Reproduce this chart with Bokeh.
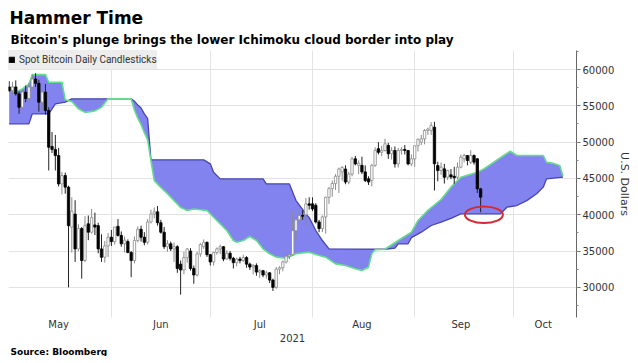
import numpy as np
import pandas as pd
from bokeh.plotting import figure
from bokeh.models import (Range1d, ColumnDataSource, FixedTicker, SingleIntervalTicker,
                          BasicTickFormatter, DatetimeTickFormatter, Legend, LegendItem, Title)
from bokeh.embed import file_html
from bokeh.resources import INLINE

# ---------------- data ----------------
first_day = "2021-05-01"   # first daily candle; one candle per day through 2021-09-21

open_px = [
    57600, 57100, 57600, 56650, 54800, 56900, 56000, 57600, 58700, 58100, 55500, 56900, 54350, 49400, 49000, 48150,
    44250, 45400, 43800, 38300, 40100, 35300, 38100, 33700, 38750, 37600, 38600, 38500, 35300, 34150, 35700,
    36900, 36300, 38400, 37150, 36000, 36300, 34800, 33700, 36450, 38000, 36900, 36200, 39000, 40100, 40400,
    38900, 37600, 35600, 36000, 35300, 35600, 33200, 32400, 34100, 35000, 32600, 31700, 34600, 35600, 36200,
    34500, 33500, 34800, 35300, 35600, 33900, 34700, 34000, 33400, 33900, 33700, 34100, 33200, 32800, 33000,
    32100, 32300, 31700, 32000, 31000, 30000, 32500, 32700, 33500, 34300, 34500, 37800, 39300, 39900, 40000, 41500,
    41500, 41300, 39000, 38100, 39700, 42400, 43600, 44300, 45300, 45900, 46300, 44500, 45600, 47700, 46800,
    46800, 45900, 44950, 44700, 46800, 49100, 48600, 48850, 49540, 48400, 48850, 47000, 48850, 49000, 48850, 47000,
    47700, 49500, 50000, 50450, 51600, 51600, 52060, 46780, 46090, 46320, 45170, 45500, 45300, 45170, 46550,
    47700, 48160, 47240, 48160, 47700, 43570,
]
high_px = [
    58400, 58300, 58500, 57000, 57200, 57800, 58200, 59300, 59500, 58600, 57100, 58000, 54800, 51400, 51000, 49200,
    45900, 45800, 44000, 42400, 42000, 38700, 38300, 39800, 39900, 40800, 40300, 38900, 37300, 36400, 37500,
    37900, 38300, 39400, 37700, 37000, 36600, 35000, 37000, 38400, 38500, 37600, 39400, 40700, 41000, 41200,
    39300, 38300, 36500, 36300, 36200, 35800, 33700, 34900, 35400, 35400, 33000, 34900, 36100, 36600, 36300,
    34600, 34900, 35500, 35900, 35700, 35100, 35000, 34200, 34100, 34200, 34500, 34300, 33400, 33200, 33300,
    32500, 32400, 32300, 32100, 31200, 32800, 32900, 33700, 34500, 34700, 40500, 39500, 40900, 40600, 42300, 42400,
    42400, 41600, 39300, 39900, 42500, 43800, 44700, 45600, 46500, 46700, 46800, 45900, 48000, 48100, 47500,
    48000, 46800, 45300, 47000, 49300, 50000, 49500, 50450, 49900, 49300, 49400, 49200, 49300, 49600, 48900, 48300,
    49100, 50500, 51000, 51800, 52000, 52750, 52800, 47300, 47200, 47000, 46200, 46300, 46600, 47200, 48300,
    48400, 48200, 48900, 48300, 47800, 43700,
]
low_px = [
    56900, 56500, 56400, 53900, 54500, 55500, 55600, 57300, 57600, 54200, 54400, 53800, 46100, 48500, 46100, 43900,
    42800, 42900, 30000, 34800, 33500, 35000, 31200, 33500, 36500, 37400, 37200, 34700, 33500, 33400, 34200,
    35700, 35900, 37000, 35600, 34800, 34700, 31400, 33300, 36200, 36300, 35800, 35900, 38800, 39500, 38500,
    37400, 35300, 34900, 35000, 33500, 32000, 29000, 31800, 33400, 32300, 30500, 31500, 34200, 35300, 34200,
    33000, 33000, 34500, 34600, 33600, 33800, 33700, 32600, 32900, 33300, 33500, 32700, 32400, 31800, 31600,
    31300, 31400, 31200, 30600, 29500, 29800, 31800, 32200, 33300, 33900, 34300, 36500, 38800, 39300, 38400, 40700,
    40500, 38800, 37600, 37600, 37400, 41500, 42500, 43400, 43000, 44700, 44200, 44200, 45300, 46800, 45600,
    45600, 44500, 44100, 43900, 46600, 48300, 48100, 48700, 47700, 47600, 46500, 46500, 48300, 48300, 46800, 46700,
    46600, 48700, 49600, 49700, 51000, 51000, 43340, 44600, 45500, 44300, 44800, 44900, 44260, 44900, 46400,
    47200, 46800, 47000, 46900, 43000, 40350,
]
close_px = [
    57100, 57600, 56650, 54800, 56900, 56000, 57600, 58700, 58100, 55500, 56900, 54350, 49300, 49000, 48150, 44250,
    45400, 43800, 38500, 40500, 35300, 38100, 33700, 38500, 37600, 39600, 38300, 35300, 34150, 35700, 36900,
    36300, 38300, 37150, 36000, 36500, 34800, 33700, 36450, 38000, 36900, 36200, 39000, 40100, 40400, 38900,
    37600, 35600, 36000, 35300, 35600, 32600, 32400, 34100, 35300, 32600, 31700, 34600, 35900, 36200, 34500,
    33500, 34800, 35300, 35600, 33900, 34700, 34000, 33400, 33900, 33700, 34100, 33200, 32800, 33000, 32100,
    32300, 31700, 32000, 31000, 30000, 32500, 32700, 33500, 34300, 34500, 37800, 39300, 39900, 39800, 41500, 41300,
    40800, 39000, 38100, 39700, 42400, 43600, 44300, 45300, 46300, 46500, 44500, 45600, 47700, 47000, 47100,
    45900, 44700, 44500, 46800, 48850, 48600, 48850, 49770, 48400, 48850, 47000, 48850, 49000, 48850, 47000, 47700,
    49500, 50400, 50450, 51600, 51800, 52300, 47010, 46090, 46550, 45170, 46090, 45200, 45100, 46550, 47930,
    48160, 47470, 48160, 47240, 43570, 42420,
]

# Ichimoku cloud borders (leading span A = green, leading span B = blue)
span_a_dates = ["2021-05-01", "2021-05-03", "2021-05-05", "2021-05-07", "2021-05-08", "2021-05-12", "2021-05-13",
                "2021-05-17", "2021-05-18", "2021-05-20", "2021-05-22", "2021-05-24", "2021-05-27", "2021-05-29",
                "2021-05-31", "2021-06-07", "2021-06-08", "2021-06-09", "2021-06-10", "2021-06-11", "2021-06-12",
                "2021-06-13", "2021-06-14", "2021-06-16", "2021-06-18", "2021-06-20", "2021-06-22", "2021-06-24",
                "2021-06-26", "2021-06-30", "2021-07-02", "2021-07-04", "2021-07-06", "2021-07-08", "2021-07-09",
                "2021-07-11", "2021-07-13", "2021-07-15", "2021-07-17", "2021-07-19", "2021-07-21", "2021-07-24",
                "2021-07-27", "2021-07-31", "2021-08-03", "2021-08-05", "2021-08-08", "2021-08-11", "2021-08-14",
                "2021-08-16", "2021-08-18", "2021-08-19", "2021-08-20", "2021-08-23", "2021-08-27", "2021-08-31",
                "2021-09-02", "2021-09-05", "2021-09-09", "2021-09-12", "2021-09-15", "2021-09-20", "2021-09-22",
                "2021-09-25", "2021-09-28", "2021-09-30", "2021-10-02", "2021-10-10", "2021-10-11", "2021-10-13",
                "2021-10-15", "2021-10-16"]
span_a = [57200, 56880, 57340, 58000, 59300, 59300, 58250,
          58250, 55830, 55600, 54600, 54100, 54300, 54800,
          55960, 55960, 54400, 53300, 52400, 51300, 50300,
          47470, 44700, 43750, 42900, 41950, 41000, 40600,
          40800, 40580, 39660, 38750, 37830, 36450, 36220,
          36450, 37000, 36450, 35310, 34620, 34160, 34020,
          34620, 34850, 34390, 34160, 33240, 33010, 32560,
          32320, 32780, 34620, 35170, 35250, 36450, 37600,
          39200, 40600, 42100, 43800, 45170, 45860, 46320,
          47240, 48160, 48750, 48160, 48160, 47240, 47100,
          46780, 45260]

span_b_dates = ["2021-05-01", "2021-05-07", "2021-05-08", "2021-05-13", "2021-05-15", "2021-05-18", "2021-05-20",
                "2021-06-07", "2021-06-08", "2021-06-09", "2021-06-10", "2021-06-11", "2021-06-12", "2021-06-13",
                "2021-06-29", "2021-07-01", "2021-07-02", "2021-07-04", "2021-07-17", "2021-07-18", "2021-07-25",
                "2021-07-27", "2021-07-30", "2021-07-31", "2021-08-02", "2021-08-04", "2021-08-06", "2021-08-23",
                "2021-08-26", "2021-08-27", "2021-08-30", "2021-08-31", "2021-09-03", "2021-09-06", "2021-09-09",
                "2021-09-12", "2021-09-15", "2021-09-27", "2021-09-29", "2021-10-02", "2021-10-05", "2021-10-08",
                "2021-10-10", "2021-10-11", "2021-10-16"]
span_b = [52520, 52520, 53900, 53900, 55270, 55500, 55960,
          55960, 55640, 55100, 54700, 53900, 53250, 47560,
          47560, 47010, 45860, 44940, 44940, 44250, 44250,
          41960, 40130, 39600, 37830, 36450, 35310, 35250,
          35400, 36000, 36000, 36850, 37600, 38520, 38980,
          39500, 40130, 40130, 41040, 41270, 41950, 42900,
          43800, 44950, 45170]

# highlighted area (red ellipse) on the lower cloud border
highlight_date = "2021-09-22"
highlight_price = 40000

month_label_dates = ["2021-05-16", "2021-06-16", "2021-07-16", "2021-08-16", "2021-09-15", "2021-10-10"]
month_starts = ["2021-06-01", "2021-07-01", "2021-08-01", "2021-09-01", "2021-10-01"]
y_ticks_step = 5000

# ---------------- build ----------------
DAY = 86400000.0
dates = pd.date_range(first_day, periods=len(close_px), freq="D")
o = np.array(open_px, float); h = np.array(high_px, float)
l = np.array(low_px, float); c = np.array(close_px, float)
up = c >= o

def src(mask):
    return ColumnDataSource(dict(date=dates[mask], high=h[mask], low=l[mask],
                                 top=np.maximum(o, c)[mask], bottom=np.minimum(o, c)[mask]))

up_src, dn_src = src(up), src(~up)

FONT = "DejaVu Sans"
p = figure(x_axis_type="datetime", y_axis_location="right",
           frame_width=568, frame_height=267,
           x_range=Range1d(pd.Timestamp("2021-04-30 19:00"), pd.Timestamp("2021-10-20 02:00")),
           y_range=Range1d(25850, 62620),
           output_backend="svg", toolbar_location=None, title=None,
           min_border_left=8, min_border_right=2, min_border_top=50, min_border_bottom=2,
           outline_line_color=None, background_fill_color="white")

# cloud
a_x = list(pd.to_datetime(span_a_dates)); b_x = list(pd.to_datetime(span_b_dates))
p.patch(x=a_x + b_x[::-1], y=span_a + span_b[::-1], fill_color="#8383ef", line_color=None)
p.line(x=b_x, y=span_b, line_color="#4646b0", line_width=1.3)
p.line(x=a_x, y=span_a, line_color="#63dd8c", line_width=1.6)

# candles
p.segment(x0="date", y0="low", x1="date", y1="high", source=up_src, line_color="#8a8a8a", line_width=1)
p.segment(x0="date", y0="low", x1="date", y1="high", source=dn_src, line_color="#222222", line_width=1)
p.vbar(x="date", width=0.72 * DAY, top="top", bottom="bottom", source=up_src,
       fill_color="white", line_color="#8a8a8a", line_width=0.8)
dn_body = p.vbar(x="date", width=0.72 * DAY, top="top", bottom="bottom", source=dn_src,
                 fill_color="black", line_color="black", line_width=0.8)

# highlight ellipse
p.ellipse(x=[pd.Timestamp(highlight_date)], y=[highlight_price], width=11.5 * DAY, height=2300,
          fill_color=None, line_color="#d42a32", line_width=2)

# axes
yax = p.yaxis[0]
yax.ticker = SingleIntervalTicker(interval=y_ticks_step, num_minor_ticks=2)
yax.formatter = BasicTickFormatter(use_scientific=False)
yax.axis_line_color = "#666666"
yax.major_tick_line_color = "#666666"
yax.minor_tick_line_color = "#888888"
yax.major_tick_in = 0
yax.major_tick_out = 4
yax.minor_tick_in = 0
yax.minor_tick_out = 2
yax.major_label_text_font = FONT
yax.major_label_text_font_size = "10px"
yax.major_label_text_color = "#333333"
yax.major_label_standoff = 2
yax.axis_label = "U.S. Dollars"
yax.axis_label_text_font = FONT
yax.axis_label_text_font_size = "11px"
yax.axis_label_text_font_style = "normal"
yax.axis_label_text_color = "#333333"
yax.axis_label_standoff = 1

xax = p.xaxis[0]
xax.ticker = FixedTicker(ticks=[pd.Timestamp(d).value / 1e6 for d in month_label_dates])
fmt = "%b"
xax.formatter = DatetimeTickFormatter(milliseconds=fmt, seconds=fmt, minsec=fmt, minutes=fmt, hourmin=fmt,
                                      hours=fmt, days=fmt, months=fmt, years=fmt)
xax.axis_line_color = None
xax.major_tick_line_color = None
xax.minor_tick_line_color = None
xax.major_tick_in = 0
xax.major_tick_out = 0
xax.minor_tick_in = 0
xax.minor_tick_out = 0
xax.major_label_text_font = FONT
xax.major_label_text_font_size = "10px"
xax.major_label_text_color = "#333333"
xax.major_label_standoff = 1
xax.axis_label = "2021"
xax.axis_label_text_font = FONT
xax.axis_label_text_font_size = "10px"
xax.axis_label_text_font_style = "normal"
xax.axis_label_text_color = "#333333"
xax.axis_label_standoff = 1

p.xgrid.ticker = FixedTicker(ticks=[pd.Timestamp(d).value / 1e6 for d in month_starts])
p.xgrid.grid_line_color = "#e3e3e3"
p.ygrid.grid_line_color = "#e3e3e3"

# legend
legend = Legend(items=[LegendItem(label="Spot Bitcoin Daily Candlesticks", renderers=[dn_body])],
                location="top_left", background_fill_color="#ededed", background_fill_alpha=1,
                border_line_color=None, margin=0, padding=4, spacing=0,
                glyph_width=7, glyph_height=7, label_height=19, label_standoff=4,
                label_text_font="Roboto", label_text_font_size="10px", label_text_color="#333333")
p.add_layout(legend)

# titles
sub = Title(text="Bitcoin's plunge brings the lower Ichimoku cloud border into play", align="left",
            text_font=FONT, text_font_size="12px", text_font_style="bold", text_color="black",
            offset=2, standoff=7)
main = Title(text="Hammer Time", align="left", text_font=FONT, text_font_size="17px",
             text_font_style="bold", text_color="black", offset=1, standoff=0)
p.add_layout(sub, "above")
p.add_layout(main, "above")
src_title = Title(text="Source: Bloomberg", align="left", text_font=FONT, text_font_size="9px",
                  text_font_style="bold", text_color="black", offset=2, standoff=0)
p.add_layout(src_title, "below")

open("out.html", "w").write(file_html(p, INLINE))
